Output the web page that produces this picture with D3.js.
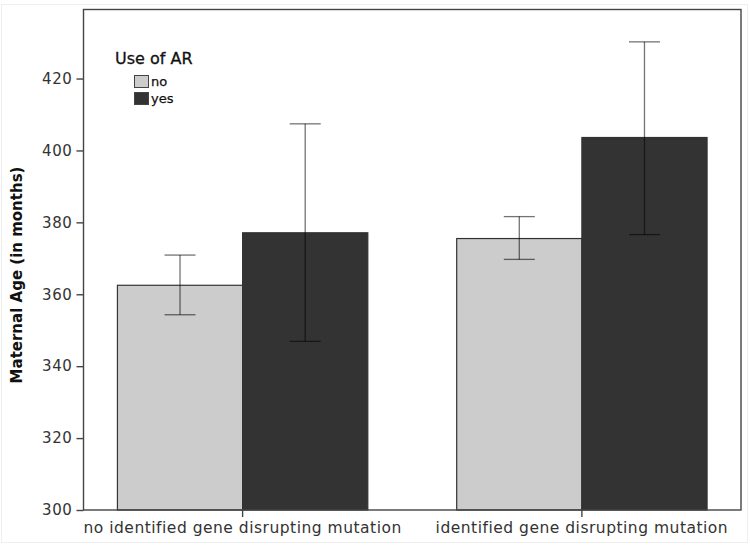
<!DOCTYPE html>
<html>
<head>
<meta charset="utf-8">
<script src="https://cdn.jsdelivr.net/npm/d3@7"></script>
<style>
  body { margin: 0; background: #fff; }
  text { font-family: "DejaVu Sans", sans-serif; fill: #333; }
</style>
</head>
<body>
<div id="chart"></div>
<script>
// data
var categories = ['no identified gene disrupting mutation', 'identified gene disrupting mutation'];
var groups = ['no', 'yes'];
var means = [[362.5, 377.1], [375.5, 403.6]];
var errLow = [[354.3, 346.9], [369.7, 376.6]];
var errHigh = [[370.9, 407.4], [381.6, 430.2]];
var yTicks = [300, 320, 340, 360, 380, 400, 420];

const width = 750, height = 548;
const margin = { top: 9.5, right: 9, bottom: 38, left: 83.5 };
const colors = { no: '#cccccc', yes: '#333333' };

const svg = d3.select('#chart').append('svg')
  .attr('width', width).attr('height', height);

// faint outer border of the figure
svg.append('rect')
  .attr('x', 1.5).attr('y', 4.5).attr('width', 746).attr('height', 538)
  .attr('fill', 'none').attr('stroke', '#eeeeee');

const x0 = d3.scaleBand().domain(categories)
  .range([margin.left, width - margin.right])
  .paddingInner(0.262).paddingOuter(0.1);
const x1 = d3.scaleBand().domain(groups).range([0, x0.bandwidth()]);
const y = d3.scaleLinear().domain([300, 439.2])
  .range([height - margin.bottom, margin.top]);

const rows = [];
categories.forEach((c, i) => {
  groups.forEach((g, j) => {
    rows.push({ cat: c, grp: g, mean: means[i][j], lo: errLow[i][j], hi: errHigh[i][j] });
  });
});

// bars
svg.append('g').selectAll('rect').data(rows).enter().append('rect')
  .attr('x', d => x0(d.cat) + x1(d.grp))
  .attr('y', d => y(d.mean))
  .attr('width', x1.bandwidth())
  .attr('height', d => y(300) - y(d.mean))
  .attr('fill', d => colors[d.grp])
  .attr('stroke', '#333')
  .attr('stroke-width', 1.2);

// error bars
const eb = svg.append('g').attr('stroke', '#000').attr('stroke-opacity', 0.55).attr('stroke-width', 1.3);
rows.forEach(d => {
  const cx = x0(d.cat) + x1(d.grp) + x1.bandwidth() / 2;
  eb.append('line').attr('x1', cx).attr('x2', cx).attr('y1', y(d.lo)).attr('y2', y(d.hi));
  eb.append('line').attr('x1', cx - 15.5).attr('x2', cx + 15.5).attr('y1', y(d.lo)).attr('y2', y(d.lo));
  eb.append('line').attr('x1', cx - 15.5).attr('x2', cx + 15.5).attr('y1', y(d.hi)).attr('y2', y(d.hi));
});

// frame
svg.append('rect')
  .attr('x', margin.left).attr('y', margin.top)
  .attr('width', width - margin.right - margin.left)
  .attr('height', y(300) - margin.top)
  .attr('fill', 'none').attr('stroke', '#444').attr('stroke-width', 1.4);

// axes
const yAxis = svg.append('g').attr('transform', `translate(${margin.left},0)`)
  .call(d3.axisLeft(y).tickValues(yTicks).tickSize(7).tickPadding(4));
yAxis.select('.domain').remove();
yAxis.selectAll('line').attr('stroke', '#444').attr('stroke-width', 1.4);
yAxis.selectAll('text').style('font-size', '15px').style('fill', '#333')
  .style('letter-spacing', '0.6px')
  .style('font-family', '"DejaVu Sans", sans-serif');

const xAxis = svg.append('g').attr('transform', `translate(0,${y(300)})`)
  .call(d3.axisBottom(x0).tickSize(7).tickPadding(5));
xAxis.select('.domain').remove();
xAxis.selectAll('line').attr('stroke', '#444').attr('stroke-width', 1.4);
xAxis.selectAll('text').style('font-size', '15.5px').style('fill', '#333')
  .style('letter-spacing', '0.5px')
  .style('font-family', '"DejaVu Sans", sans-serif');

// y axis title
svg.append('text')
  .attr('transform', 'rotate(-90)')
  .attr('x', -275).attr('y', 22)
  .style('text-anchor', 'middle')
  .style('font-size', '15px')
  .style('font-weight', 'bold')
  .style('fill', '#111')
  .text('Maternal Age (in months)');

// legend
svg.append('text').attr('x', 115).attr('y', 64)
  .style('font-size', '16px').style('fill', '#111').style('stroke', '#111').style('stroke-width', 0.3)
  .text('Use of AR');
groups.forEach((g, i) => {
  svg.append('rect').attr('x', 134.5).attr('y', 75.5 + i * 17)
    .attr('width', 14).attr('height', 12)
    .attr('fill', colors[g]).attr('stroke', '#444').attr('stroke-width', 1);
  svg.append('text').attr('x', 151).attr('y', 86 + i * 17)
    .style('font-size', '13px').style('fill', '#111').style('stroke', '#111').style('stroke-width', 0.25)
    .text(g);
});
</script>
</body>
</html>
